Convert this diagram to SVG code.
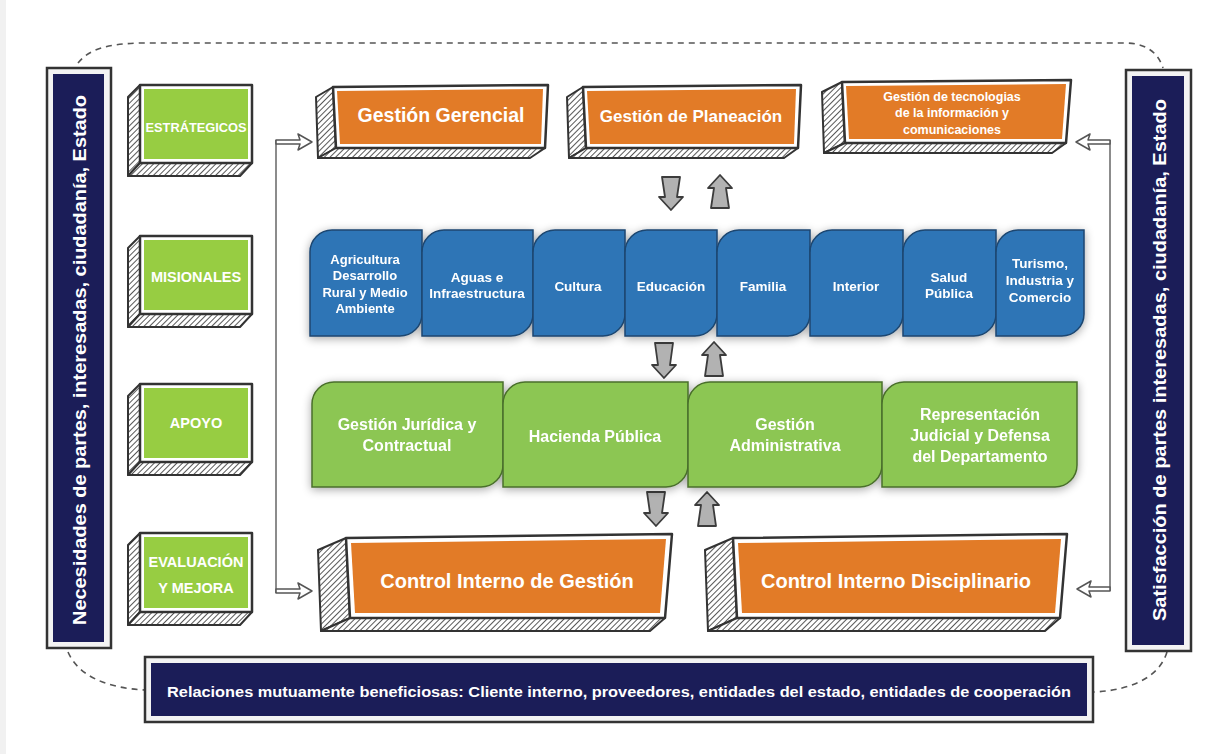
<svg xmlns="http://www.w3.org/2000/svg" width="1218" height="754" viewBox="0 0 1218 754">
<defs>
<pattern id="hatch" patternUnits="userSpaceOnUse" width="4" height="4" patternTransform="rotate(45)">
<rect width="4" height="4" fill="#ffffff"/>
<line x1="0" y1="0" x2="0" y2="4" stroke="#3a3a3a" stroke-width="1.7"/>
</pattern>
<filter id="shadow" x="-5%" y="-20%" width="110%" height="140%">
<feGaussianBlur in="SourceAlpha" stdDeviation="5"/>
<feOffset dx="0" dy="2" result="b"/>
<feComponentTransfer><feFuncA type="linear" slope="0.35"/></feComponentTransfer>
<feMerge><feMergeNode/><feMergeNode in="SourceGraphic"/></feMerge>
</filter>
<style>
.t{font-family:"Liberation Sans",Arial,sans-serif;font-weight:bold;fill:#ffffff;text-anchor:middle}
.hf{fill:url(#hatch);stroke:#333;stroke-width:2;stroke-linejoin:round}
.fr{fill:#ffffff;stroke:#333;stroke-width:2.5;stroke-linejoin:round}
.lg{fill:#97cd42}
.or{fill:#e27b27}
.nv{fill:#1b1d58}
.bl{fill:#2e75b6;stroke:#1d4670;stroke-width:1.5}
.gr{fill:#8cc653;stroke:#4a6f2c;stroke-width:1.5}
.ga{fill:#b2b2b2;stroke:#3c3c3c;stroke-width:1.8;stroke-linejoin:round}
.ha{fill:#ffffff;stroke:#555;stroke-width:1.5;stroke-linejoin:round}
.ln{fill:none;stroke:#666;stroke-width:1.5}
.ds{fill:none;stroke:#555;stroke-width:1.6;stroke-dasharray:6 5}
.fb{fill:#f3f3f3;stroke:#333;stroke-width:2.5}
</style>
</defs>
<rect width="1218" height="754" fill="#ffffff"/>
<rect x="0" y="0" width="6" height="754" fill="#f1f1f1"/>

<g id="connectors">
<path class="ds" d="M 78 63 C 90 48 110 44 140 43 L 1125 43 C 1145 43 1158 52 1163 68"/>
<path class="ds" d="M 68 652 C 78 675 105 688 145 690"/>
<path class="ds" d="M 1167 652 C 1160 675 1135 690 1094 692"/>
<line class="ln" x1="276" y1="140" x2="276" y2="593"/>
<line class="ln" x1="1110" y1="140" x2="1110" y2="591"/>
<polygon class="ha" points="276,140 300,140 298,134 312,142 298,150 300,144 276,144"/>
<polygon class="ha" points="276,589 300,589 298,583 312,591 298,599 300,593 276,593"/>
<polygon class="ha" points="1110,140 1088,140 1090,134 1076,142 1090,150 1088,144 1110,144"/>
<polygon class="ha" points="1110,587 1089,587 1091,581 1077,589 1091,597 1089,591 1110,591"/>
<polygon class="ga" points="662,177 680,177 677,197 683,197 671,210 659,197 665,197"/>
<polygon class="ga" points="720,175 732,188 726,188 729,208 711,208 714,188 708,188"/>
<polygon class="ga" points="655,343 673,343 670,365 676,365 664,378 652,365 658,365"/>
<polygon class="ga" points="714,342 726,355 720,355 723,376 705,376 708,355 702,355"/>
<polygon class="ga" points="647,492 665,492 662,513 668,513 656,526 644,513 650,513"/>
<polygon class="ga" points="707,492 719,505 713,505 716,526 698,526 701,505 695,505"/>
</g>

<g id="left-bar">
<rect class="fb" x="47" y="68" width="64" height="580"/>
<rect class="nv" x="53" y="74" width="51" height="568"/>
<text class="t" x="0" y="0" font-size="18" textLength="530" lengthAdjust="spacingAndGlyphs" transform="translate(86 360) rotate(-90)">Necesidades de partes, interesadas, ciudadanía, Estado</text>
</g>

<g id="right-bar">
<rect class="fb" x="1126" y="70" width="65" height="581"/>
<rect class="nv" x="1132" y="76" width="52" height="569"/>
<text class="t" x="0" y="0" font-size="18" textLength="522" lengthAdjust="spacingAndGlyphs" transform="translate(1166 360) rotate(-90)">Satisfacción de partes interesadas, ciudadanía, Estado</text>
</g>

<g id="bottom-bar">
<rect class="fb" x="145" y="657" width="948" height="65"/>
<rect class="nv" x="151" y="663" width="936" height="53"/>
<text class="t" x="619" y="697" font-size="14.5" textLength="904" lengthAdjust="spacingAndGlyphs">Relaciones mutuamente beneficiosas: Cliente interno, proveedores, entidades del estado, entidades de cooperación</text>
</g>

<g id="estrategicos">
<polygon class="hf" points="140,85 128,97 128,176 140,163"/>
<polygon class="hf" points="140,163 128,176 240,176 252,163"/>
<rect class="fr" x="140" y="85" width="112" height="78"/>
<rect class="lg" x="144" y="89" width="104" height="70"/>
<text class="t" x="196" y="132" font-size="12.8">ESTRÁTEGICOS</text>
</g>
<g id="misionales">
<polygon class="hf" points="140,236 128,248 128,327 140,314"/>
<polygon class="hf" points="140,314 128,327 240,327 252,314"/>
<rect class="fr" x="140" y="236" width="112" height="78"/>
<rect class="lg" x="144" y="240" width="104" height="70"/>
<text class="t" x="196" y="282" font-size="14.5">MISIONALES</text>
</g>
<g id="apoyo">
<polygon class="hf" points="140,384 128,396 128,475 140,462"/>
<polygon class="hf" points="140,462 128,475 240,475 252,462"/>
<rect class="fr" x="140" y="384" width="112" height="78"/>
<rect class="lg" x="144" y="388" width="104" height="70"/>
<text class="t" x="196" y="428" font-size="14.5">APOYO</text>
</g>
<g id="evaluacion">
<polygon class="hf" points="140,533 128,545 128,625 140,612"/>
<polygon class="hf" points="140,612 128,625 240,625 252,612"/>
<rect class="fr" x="140" y="533" width="112" height="79"/>
<rect class="lg" x="144" y="537" width="104" height="71"/>
<text class="t" x="196" y="567" font-size="14.5">EVALUACIÓN</text>
<text class="t" x="196" y="593" font-size="14.5">Y MEJORA</text>
</g>

<g id="gestion-gerencial">
<polygon class="hf" points="333,87 316,97 318,158 336,148"/>
<polygon class="hf" points="336,148 318,158 530,158 545,148"/>
<polygon class="fr" points="333,87 548,85 545,148 336,148"/>
<polygon class="or" points="337,91 543,89 541,144 340,144"/>
<text class="t" x="441" y="122" font-size="19.5">Gestión Gerencial</text>
</g>
<g id="gestion-planeacion">
<polygon class="hf" points="583,87 567,97 569,158 586,148"/>
<polygon class="hf" points="586,148 569,158 784,158 798,148"/>
<polygon class="fr" points="583,87 801,85 798,148 586,148"/>
<polygon class="or" points="587,91 796,89 794,144 590,144"/>
<text class="t" x="691" y="122" font-size="17">Gestión de Planeación</text>
</g>
<g id="gestion-tic">
<polygon class="hf" points="842,82 822,92 824,153 845,143"/>
<polygon class="hf" points="845,143 824,153 1052,153 1066,143"/>
<polygon class="fr" points="842,82 1071,80 1066,143 845,143"/>
<polygon class="or" points="846,86 1066,84 1062,139 849,139"/>
<text class="t" x="952" y="101" font-size="12.5">Gestión de tecnologias</text>
<text class="t" x="952" y="117" font-size="12.5">de la información y</text>
<text class="t" x="952" y="134" font-size="12.5">comunicaciones</text>
</g>

<g id="misionales-row" filter="url(#shadow)">
<g id="agricultura">
<path class="bl" d="M 310 252 A 22 22 0 0 1 332 230 L 422 230 L 422 314 A 22 22 0 0 1 400 336 L 310 336 Z"/>
<text class="t" x="365" y="264" font-size="13">Agricultura</text>
<text class="t" x="365" y="280" font-size="13">Desarrollo</text>
<text class="t" x="365" y="297" font-size="13">Rural y Medio</text>
<text class="t" x="365" y="313" font-size="13">Ambiente</text>
</g>
<g id="aguas">
<path class="bl" d="M 422 252 A 22 22 0 0 1 444 230 L 533 230 L 533 314 A 22 22 0 0 1 511 336 L 422 336 Z"/>
<text class="t" x="477" y="282" font-size="13.5">Aguas e</text>
<text class="t" x="477" y="298" font-size="13.5">Infraestructura</text>
</g>
<g id="cultura">
<path class="bl" d="M 533 252 A 22 22 0 0 1 555 230 L 625 230 L 625 314 A 22 22 0 0 1 603 336 L 533 336 Z"/>
<text class="t" x="578" y="291" font-size="13.5">Cultura</text>
</g>
<g id="educacion">
<path class="bl" d="M 625 252 A 22 22 0 0 1 647 230 L 717 230 L 717 314 A 22 22 0 0 1 695 336 L 625 336 Z"/>
<text class="t" x="671" y="291" font-size="13.5">Educación</text>
</g>
<g id="familia">
<path class="bl" d="M 717 252 A 22 22 0 0 1 739 230 L 810 230 L 810 314 A 22 22 0 0 1 788 336 L 717 336 Z"/>
<text class="t" x="763" y="291" font-size="13.5">Familia</text>
</g>
<g id="interior">
<path class="bl" d="M 810 252 A 22 22 0 0 1 832 230 L 903 230 L 903 314 A 22 22 0 0 1 881 336 L 810 336 Z"/>
<text class="t" x="856" y="291" font-size="13.5">Interior</text>
</g>
<g id="salud">
<path class="bl" d="M 903 252 A 22 22 0 0 1 925 230 L 996 230 L 996 314 A 22 22 0 0 1 974 336 L 903 336 Z"/>
<text class="t" x="949" y="282" font-size="13.5">Salud</text>
<text class="t" x="949" y="298" font-size="13.5">Pública</text>
</g>
<g id="turismo">
<path class="bl" d="M 996 252 A 22 22 0 0 1 1018 230 L 1084 230 L 1084 314 A 22 22 0 0 1 1062 336 L 996 336 Z"/>
<text class="t" x="1040" y="268" font-size="13.5">Turismo,</text>
<text class="t" x="1040" y="285" font-size="13.5">Industria y</text>
<text class="t" x="1040" y="302" font-size="13.5">Comercio</text>
</g>
</g>

<g id="apoyo-row" filter="url(#shadow)">
<g id="juridica">
<path class="gr" d="M 312 404 A 22 22 0 0 1 334 382 L 503 382 L 503 465 A 22 22 0 0 1 481 487 L 312 487 Z"/>
<text class="t" x="407" y="430" font-size="16">Gestión Jurídica y</text>
<text class="t" x="407" y="451" font-size="16">Contractual</text>
</g>
<g id="hacienda">
<path class="gr" d="M 503 404 A 22 22 0 0 1 525 382 L 688 382 L 688 465 A 22 22 0 0 1 666 487 L 503 487 Z"/>
<text class="t" x="595" y="442" font-size="16">Hacienda Pública</text>
</g>
<g id="administrativa">
<path class="gr" d="M 688 404 A 22 22 0 0 1 710 382 L 882 382 L 882 465 A 22 22 0 0 1 860 487 L 688 487 Z"/>
<text class="t" x="785" y="430" font-size="16">Gestión</text>
<text class="t" x="785" y="451" font-size="16">Administrativa</text>
</g>
<g id="representacion">
<path class="gr" d="M 882 404 A 22 22 0 0 1 904 382 L 1077 382 L 1077 465 A 22 22 0 0 1 1055 487 L 882 487 Z"/>
<text class="t" x="980" y="420" font-size="16">Representación</text>
<text class="t" x="980" y="441" font-size="16">Judicial y Defensa</text>
<text class="t" x="980" y="462" font-size="16">del Departamento</text>
</g>
</g>

<g id="control-gestion">
<polygon class="hf" points="346,538 318,550 321,631 350,618"/>
<polygon class="hf" points="350,618 321,631 650,631 665,618"/>
<polygon class="fr" points="346,538 672,534 665,618 350,618"/>
<polygon class="or" points="351,543 666,539 660,613 355,613"/>
<text class="t" x="507" y="588" font-size="20">Control Interno de Gestión</text>
</g>
<g id="control-disciplinario">
<polygon class="hf" points="733,538 705,550 708,631 737,618"/>
<polygon class="hf" points="737,618 708,631 1045,631 1060,618"/>
<polygon class="fr" points="733,538 1067,534 1060,618 737,618"/>
<polygon class="or" points="738,543 1061,539 1055,613 742,613"/>
<text class="t" x="896" y="588" font-size="20">Control Interno Disciplinario</text>
</g>
</svg>
